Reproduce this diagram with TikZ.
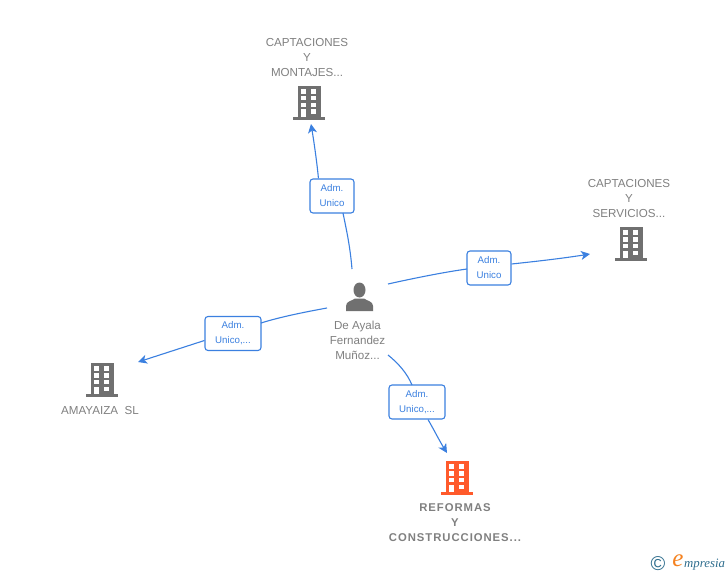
\documentclass[tikz,border=0pt]{standalone}
\usepackage{fontspec}
\setmainfont{Liberation Sans}
\newfontfamily\boldspaced[LetterSpace=8.5]{Liberation Sans Bold}
\newfontfamily\logofont{Liberation Serif Italic}
\usetikzlibrary{arrows.meta}
\definecolor{linkblue}{HTML}{3B80E0}
\definecolor{txtgray}{HTML}{808080}
\definecolor{icongray}{HTML}{707070}
\definecolor{iconorange}{HTML}{FF5A2B}
\definecolor{logoteal}{HTML}{2F6E8E}
\definecolor{logoorange}{HTML}{F58220}
\tikzset{
  link/.style={draw=linkblue,line width=1.1pt},
  linkarrow/.style={link,-{Stealth[length=9pt,width=9pt,inset=2.5pt]}},
  rolebox/.style={draw=linkblue,line width=1.1pt,fill=white,rounded corners=3pt,inner sep=0pt,
    text=linkblue,font=\fontsize{9.7}{15}\selectfont,align=center,minimum height=34pt},
  caption/.style={text=txtgray,font=\fontsize{11.6}{15}\selectfont,align=center,inner sep=0pt},
  maincaption/.style={text=txtgray,font=\fontsize{11.3}{15}\boldspaced,align=center,inner sep=0pt},
  iconspot/.style={inner sep=0pt,minimum width=32pt,minimum height=34pt},
  pics/building/.style={code={
    \fill[#1] (-11.5,-17) rectangle (11.5,14);
    \fill[#1] (-16,14) rectangle (16,17);
    \foreach \wy in {-13.7,-7,-0.2}{
      \fill[white] (-8,\wy) rectangle (-3,\wy+4.5);
      \fill[white] (2,\wy) rectangle (7,\wy+4.5);
    }
    \fill[white] (-8,6.5) rectangle (-3,14);
    \fill[white] (2,6.5) rectangle (7,10.8);
  }}
}
\begin{document}
\begin{tikzpicture}[x=1pt,y=-1pt]
\useasboundingbox (0,0) rectangle (728,575);
\fill[white] (0,0) rectangle (728,575);

% buildings
\node[iconspot] (capmont) at (309,103) {};
\pic at (capmont) {building=icongray};
\node[iconspot] (capserv) at (631,244) {};
\pic at (capserv) {building=icongray};
\node[iconspot] (amaya) at (102,380) {};
\pic at (amaya) {building=icongray};
\node[iconspot] (reform) at (457,478) {};
\pic at (reform) {building=iconorange};

% person
\node[iconspot,minimum width=28pt,minimum height=30pt] (person) at (359.5,297) {};
\fill[icongray] (359.5,290) ellipse (6pt and 7.5pt);
\fill[icongray] (346,311) -- (346,306) .. controls (346,301) and (352,301) .. (355,298.5)
  -- (364,298.5) .. controls (367,301) and (373,301) .. (373,306) -- (373,311) -- cycle;

% captions
\node[caption] (t1) at (307,57.5) {CAPTACIONES\\Y\\MONTAJES...};
\node[caption] (t2) at (629,198.5) {CAPTACIONES\\Y\\SERVICIOS...};
\node[caption] (t3) at (100,411) {AMAYAIZA\ \ SL};
\node[caption] (t4) at (357.5,340) {De Ayala\\Fernandez\\Muñoz...};
\node[maincaption] (t5) at (455,523) {REFORMAS\\Y\\CONSTRUCCIONES...};

% role boxes
\node[rolebox,minimum width=44pt] (r1) at (332,196) {Adm.\\Unico};
\node[rolebox,minimum width=44pt] (r2) at (489,268) {Adm.\\Unico};
\node[rolebox,minimum width=56pt] (r3) at (233,333.5) {Adm.\\Unico,...};
\node[rolebox,minimum width=56pt] (r4) at (417,402) {Adm.\\Unico,...};

% free connector ends
\coordinate (s1) at (352,269);
\coordinate (e1) at (311,124);
\coordinate (s2) at (388,284);
\coordinate (e2) at (590,254);
\coordinate (s3) at (327,308);
\coordinate (e3) at (138,362);
\coordinate (s4) at (388,355);
\coordinate (e4) at (447,453);

% connectors
\draw[link] (s1) .. controls (350,245) and (346,228) .. (343,213);
\draw[linkarrow] (r1.north west) ++(9,0) .. controls (317,163) and (314,142) .. (e1);
\draw[link] (s2) .. controls (415,278) and (445,272) .. (467,269);
\draw[linkarrow] (r2.east) ++(0,-4) .. controls (540,261) and (565,258) .. (e2);
\draw[link] (s3) .. controls (305,312) and (280,317) .. (261,323);
\draw[linkarrow] (r3.west) ++(0,7) -- (e3);
\draw[link] (s4) .. controls (398,363) and (407,373) .. (412,385);
\draw[linkarrow] (r4.south) ++(11,0) .. controls (433,428) and (439,440) .. (e4);

% logo
\node[inner sep=0pt,text=logoteal,font=\fontsize{20}{20}\selectfont] (copy) at (658,564) {©};
\node[inner sep=0pt,text=logoorange,font=\fontsize{25}{25}\logofont] (elog) at (678,561) {e};
\node[inner sep=0pt,text=logoteal,anchor=west,font=\fontsize{12.8}{14}\logofont] (mlog) at (684,565) {mpresia};
\end{tikzpicture}
\end{document}
